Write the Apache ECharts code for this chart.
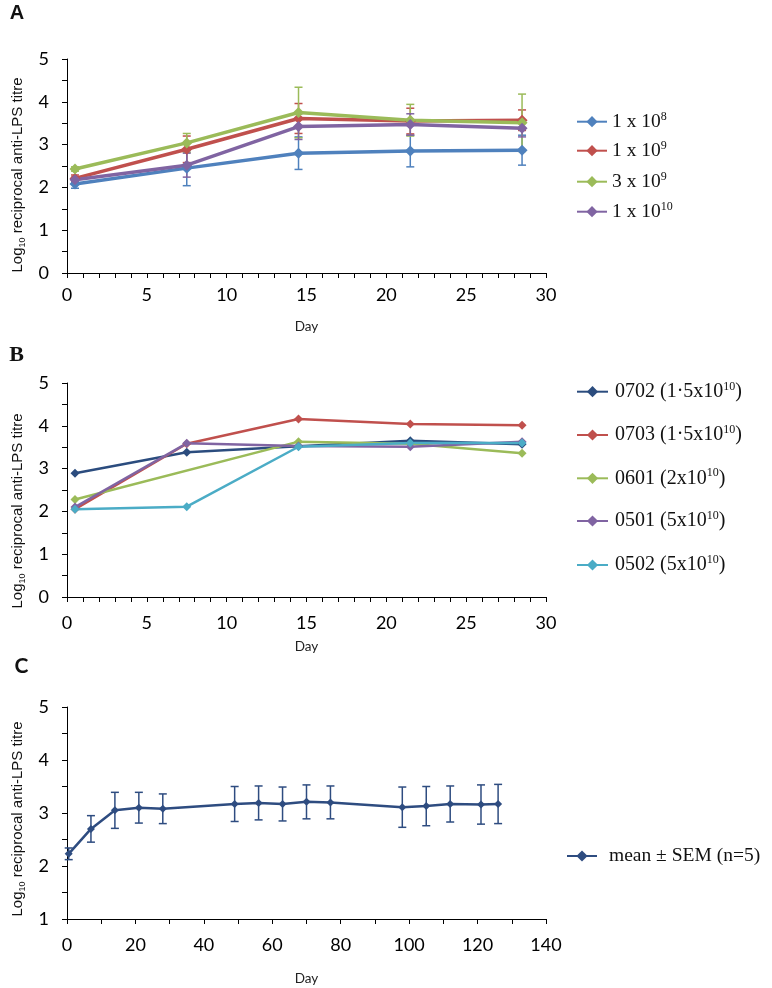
<!DOCTYPE html>
<html><head><meta charset="utf-8">
<script src="https://cdn.jsdelivr.net/npm/echarts@6/dist/echarts.min.js"></script>
<style>html,body{margin:0;padding:0;background:#fff}#c{width:772px;height:988px}</style>
</head><body><div id="c"></div>
<script>
// ---------- Panel A ----------
const daysA = [0.5, 7.5, 14.5, 21.5, 28.5];
const namesA = ['1 x 10^8', '1 x 10^9', '3 x 10^9', '1 x 10^10'];
const a1e8 = [2.08, 2.45, 2.80, 2.85, 2.87];
const a1e8Err = [0.10, 0.41, 0.38, 0.37, 0.35];
const a1e9 = [2.21, 2.89, 3.61, 3.55, 3.57];
const a1e9Err = [0.08, 0.31, 0.35, 0.30, 0.24];
const a3e9 = [2.43, 3.04, 3.75, 3.57, 3.51];
const a3e9Err = [0.05, 0.22, 0.59, 0.37, 0.67];
const a1e10 = [2.18, 2.52, 3.42, 3.47, 3.38];
const a1e10Err = [0.06, 0.28, 0.30, 0.25, 0.20];
// ---------- Panel B ----------
const daysB = [0.5, 7.5, 14.5, 21.5, 28.5];
const namesB = ['0702 (1·5x10^10)', '0703 (1·5x10^10)', '0601 (2x10^10)', '0501 (5x10^10)', '0502 (5x10^10)'];
const b0702 = [2.89, 3.38, 3.52, 3.65, 3.57];
const b0703 = [2.05, 3.58, 4.16, 4.04, 4.01];
const b0601 = [2.28, null, 3.63, 3.58, 3.36];
const b0501 = [2.10, 3.59, 3.53, 3.51, 3.63];
const b0502 = [2.05, 2.11, 3.51, 3.60, 3.60];
// ---------- Panel C ----------
const daysC = [0.5, 7, 14, 21, 28, 49, 56, 63, 70, 77, 98, 105, 112, 121, 126];
const nameC = 'mean ± SEM (n=5)';
const meanC = [2.23, 2.70, 3.05, 3.10, 3.08, 3.17, 3.19, 3.17, 3.21, 3.20, 3.11, 3.13, 3.17, 3.16, 3.17];
const semC  = [0.11, 0.25, 0.34, 0.29, 0.28, 0.33, 0.32, 0.32, 0.32, 0.31, 0.38, 0.37, 0.34, 0.37, 0.37];
// tick settings
const xTicksAB = {min: 0, max: 30, interval: 5};
const xTicksC = {min: 0, max: 140, interval: 20};
const yTicksAB = {min: 0, max: 5, interval: 1};
const yTicksC = {min: 1, max: 5, interval: 1};

const colA = ['#4F81BD', '#C0504D', '#9BBB59', '#8064A2'];
const colB = ['#2B4C7E', '#C0504D', '#9BBB59', '#8064A2', '#4BACC6'];
const colC = '#2E4C80';

function lineSeries(name, days, vals, color, gi, lw, ss) {
  const data = [];
  days.forEach((d, i) => { if (vals[i] != null) data.push([d, vals[i]]); });
  return {type: 'line', name, xAxisIndex: gi, yAxisIndex: gi, data, connectNulls: true,
    symbol: 'diamond', symbolSize: ss, showSymbol: true, showAllSymbol: true,
    lineStyle: {color, width: lw}, itemStyle: {color}, emphasis: {disabled: true},
    z: 3, animation: false};
}
function errSeries(name, days, vals, errs, color, gi, cap, lw) {
  return {type: 'custom', name: name + ' err', xAxisIndex: gi, yAxisIndex: gi, silent: true, z: 2,
    animation: false, encode: {x: 0, y: 1},
    data: days.map((d, i) => [d, vals[i], errs[i]]),
    renderItem: function (params, api) {
      const x = api.value(0), y = api.value(1), e = api.value(2);
      const hi = api.coord([x, y + e]), lo = api.coord([x, y - e]);
      const st = {stroke: color, lineWidth: lw};
      return {type: 'group', children: [
        {type: 'line', shape: {x1: hi[0], y1: hi[1], x2: lo[0], y2: lo[1]}, style: st},
        {type: 'line', shape: {x1: hi[0] - cap, y1: hi[1], x2: hi[0] + cap, y2: hi[1]}, style: st},
        {type: 'line', shape: {x1: lo[0] - cap, y1: lo[1], x2: lo[0] + cap, y2: lo[1]}, style: st}
      ]};
    }};
}
function xAxis(gi, ticks, minorSplit, margin, nameGap) {
  return Object.assign({type: 'value', gridIndex: gi, name: 'Day', nameLocation: 'middle', nameGap,
    nameTextStyle: {fontFamily: 'Lato', fontSize: 13.5, color: '#222'},
    axisLine: {onZero: false, lineStyle: {color: '#000', width: 1}},
    axisTick: {length: 5, lineStyle: {color: '#000'}},
    minorTick: {show: true, splitNumber: minorSplit, length: 5, lineStyle: {color: '#000', width: 1}},
    splitLine: {show: false},
    axisLabel: {color: '#000', fontFamily: 'Lato', fontSize: 18, margin}}, ticks);
}
function yAxis(gi, ticks) {
  return Object.assign({type: 'value', gridIndex: gi,
    axisLine: {show: true, onZero: false, lineStyle: {color: '#000', width: 1}},
    axisTick: {show: true, length: 5, lineStyle: {color: '#000'}},
    minorTick: {show: true, splitNumber: 2, length: 5, lineStyle: {color: '#000', width: 1}},
    splitLine: {show: false},
    axisLabel: {color: '#000', fontFamily: 'Lato', fontSize: 18, margin: 18}}, ticks);
}
function legendItem(name, left, rowY, fs, iw, textPad) {
  return {left, top: rowY - 11, padding: 0, itemWidth: iw, itemHeight: 14, data: [name],
    selectedMode: false, lineStyle: {width: 2},
    formatter: n => n.replace(/\^(\d+)/g, '{s|$1}'),
    textStyle: {fontFamily: 'Liberation Serif', fontSize: fs, color: '#111', lineHeight: 22,
      padding: [0, 0, 0, textPad],
      rich: {s: {fontFamily: 'Liberation Serif', fontSize: 12, lineHeight: 12, verticalAlign: 'top', color: '#111'}}}};
}
function yName(x, y) {
  return {type: 'text', x, y, rotation: Math.PI / 2,
    style: {text: 'Log{sub|10} reciprocal anti-LPS titre', fontFamily: 'Liberation Sans', fontSize: 15,
      lineHeight: 18, fill: '#111', align: 'center', verticalAlign: 'middle',
      rich: {sub: {fontFamily: 'Liberation Sans', fontSize: 9, lineHeight: 9, verticalAlign: 'bottom', fill: '#111'}}}};
}

const series = [];
const seriesA = [a1e8, a1e9, a3e9, a1e10];
const errsA = [a1e8Err, a1e9Err, a3e9Err, a1e10Err];
namesA.forEach((n, i) => series.push(errSeries(n, daysA, seriesA[i], errsA[i], colA[i], 0, 4, 1.5)));
namesA.forEach((n, i) => series.push(lineSeries(n, daysA, seriesA[i], colA[i], 0, 3.5, 11)));
const seriesB = [b0702, b0703, b0601, b0501, b0502];
namesB.forEach((n, i) => series.push(lineSeries(n, daysB, seriesB[i], colB[i], 1, 2.5, 9)));
series.push(errSeries(nameC, daysC, meanC, semC, colC, 2, 4, 1.5));
series.push(lineSeries(nameC, daysC, meanC, colC, 2, 2.5, 8));

const legends = [];
const rowsA = [121.7, 150.7, 181.7, 211.7];
namesA.forEach((n, i) => legends.push(legendItem(n, 576, rowsA[i], 19.5, 30, 0)));
const rowsB = [391.7, 435, 478.3, 521, 565];
namesB.forEach((n, i) => legends.push(legendItem(n, 576, rowsB[i], 20, 31, 2)));
legends.push(legendItem(nameC, 566, 856, 19.5, 30, 7));

const option = {
  backgroundColor: '#fff',
  animation: false,
  grid: [
    {left: 67, top: 59, width: 479, height: 214},
    {left: 67, top: 383, width: 479, height: 214},
    {left: 67, top: 707, width: 479, height: 212}
  ],
  xAxis: [xAxis(0, xTicksAB, 5, 13, 47), xAxis(1, xTicksAB, 5, 17, 43), xAxis(2, xTicksC, 2, 17, 53)],
  yAxis: [yAxis(0, yTicksAB), yAxis(1, yTicksAB), yAxis(2, yTicksC)],
  legend: legends,
  series,
  graphic: [
    {type: 'text', x: 17, y: 13, style: {text: 'A', fontFamily: 'Liberation Sans', fontWeight: 'bold', fontSize: 20, fill: '#111', align: 'center', verticalAlign: 'middle'}},
    {type: 'text', x: 16.5, y: 355, style: {text: 'B', fontFamily: 'Liberation Serif', fontWeight: 'bold', fontSize: 22, fill: '#111', align: 'center', verticalAlign: 'middle'}},
    {type: 'text', x: 21.5, y: 666, style: {text: 'C', fontFamily: 'Lato', fontWeight: 'bold', fontSize: 21, fill: '#111', align: 'center', verticalAlign: 'middle'}},
    yName(18, 175), yName(18, 511), yName(18, 819)
  ]
};
const chart = echarts.init(document.getElementById('c'), null, {renderer: 'canvas'});
chart.setOption(option);
</script>
</body></html>
